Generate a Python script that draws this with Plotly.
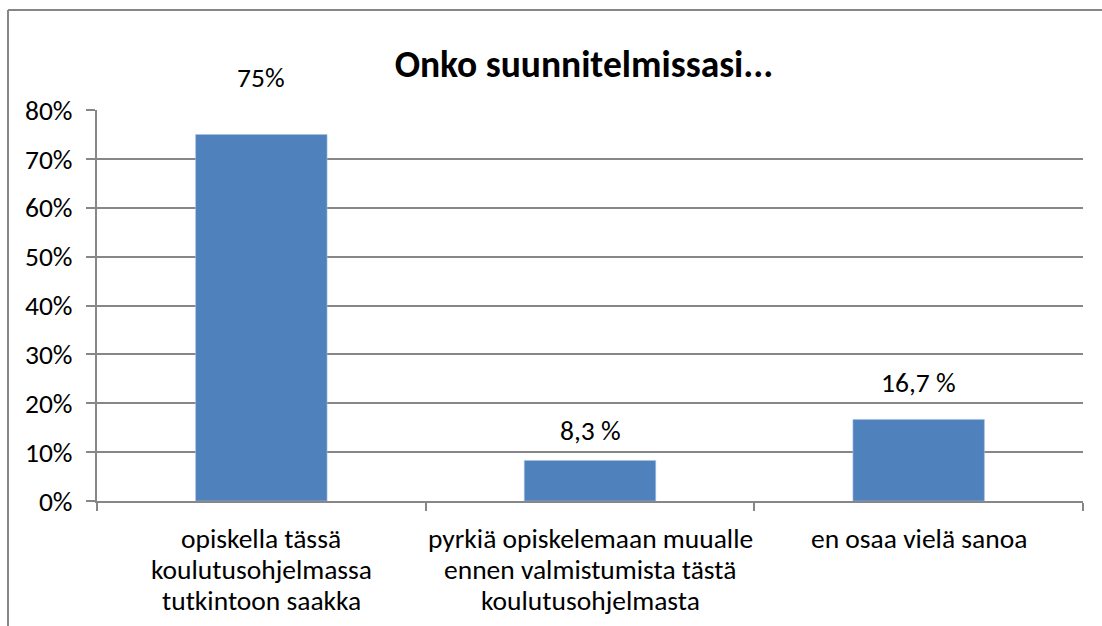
import plotly.graph_objects as go

# Survey answers: "Onko suunnitelmissasi..."
categories = [
    "opiskella tässä<br>koulutusohjelmassa<br>tutkintoon saakka",
    "pyrkiä opiskelemaan muualle<br>ennen valmistumista tästä<br>koulutusohjelmasta",
    "en osaa vielä sanoa",
]
values = [75, 8.3, 16.7]
value_labels = ["75%", "8,3 %", "16,7 %"]
label_offsets = [57, 30, 37]  # pixel lift of each value label above its bar
y_ticks = [0, 10, 20, 30, 40, 50, 60, 70, 80]
y_tick_text = [f"{v}%" for v in y_ticks]

FONT = "Carlito, Lato, sans-serif"
FS = 27.5
BAR = "#4F81BD"
GRID = "#878787"
TEXT = "#000000"

W, H = 1102, 626
L, R, T, B = 97, 19, 110, 125
pw, ph = W - L - R, H - T - B
LINE_STEP = 31  # baseline spacing of the category label lines

fig = go.Figure(
    go.Bar(
        x=categories,
        y=values,
        width=0.4,
        marker=dict(color=BAR, line=dict(color="#A9C1E0", width=0.6)),
        hoverinfo="skip",
    )
)

for cat, v, lab, off in zip(categories, values, value_labels, label_offsets):
    fig.add_annotation(
        x=cat, y=v, text=lab, showarrow=False, yanchor="middle",
        yshift=off, font=dict(family=FONT, size=FS, color=TEXT),
    )

# category labels, one line at a time for tighter line spacing
for cat in categories:
    for i, line in enumerate(cat.split("<br>")):
        fig.add_annotation(
            x=cat, y=0, text=line, showarrow=False, yanchor="middle",
            yshift=-(37 + i * LINE_STEP),
            font=dict(family=FONT, size=FS, color=TEXT),
        )

# chart frame: left and top edges
px = lambda x: (x - L) / pw
py = lambda y: (H - B - y) / ph
fig.add_shape(type="line", xref="paper", yref="paper",
              x0=px(8), x1=px(8), y0=py(10), y1=py(640),
              line=dict(color="#868686", width=2))
fig.add_shape(type="line", xref="paper", yref="paper",
              x0=px(8), x1=px(1110), y0=py(10), y1=py(10),
              line=dict(color="#868686", width=2))

fig.update_layout(
    width=W, height=H,
    margin=dict(l=L, r=R, t=T, b=B),
    paper_bgcolor="white", plot_bgcolor="white",
    showlegend=False,
    bargap=0.6,
    title=dict(
        text="<b>Onko suunnitelmissasi...</b>",
        x=px(584), xref="paper", xanchor="center",
        y=1 - 64 / H, yref="container", yanchor="middle",
        font=dict(family=FONT, size=37.5, color=TEXT),
    ),
    font=dict(family=FONT, size=FS, color=TEXT),
)

fig.update_xaxes(
    type="category",
    tickson="boundaries",
    ticks="outside", ticklen=8, tickcolor=GRID, tickwidth=2,
    showline=True, linecolor=GRID, linewidth=2,
    showgrid=False,
    showticklabels=False,
)
fig.update_yaxes(
    range=[0, 80],
    tickvals=y_ticks, ticktext=y_tick_text,
    ticks="outside", ticklen=9, tickcolor=GRID, tickwidth=2,
    showline=True, linecolor=GRID, linewidth=2,
    showgrid=True, gridcolor=GRID, gridwidth=2,
    zeroline=False,
    ticklabelstandoff=8,
    tickfont=dict(family=FONT, size=FS, color=TEXT),
)

fig.write_html("out.html")
